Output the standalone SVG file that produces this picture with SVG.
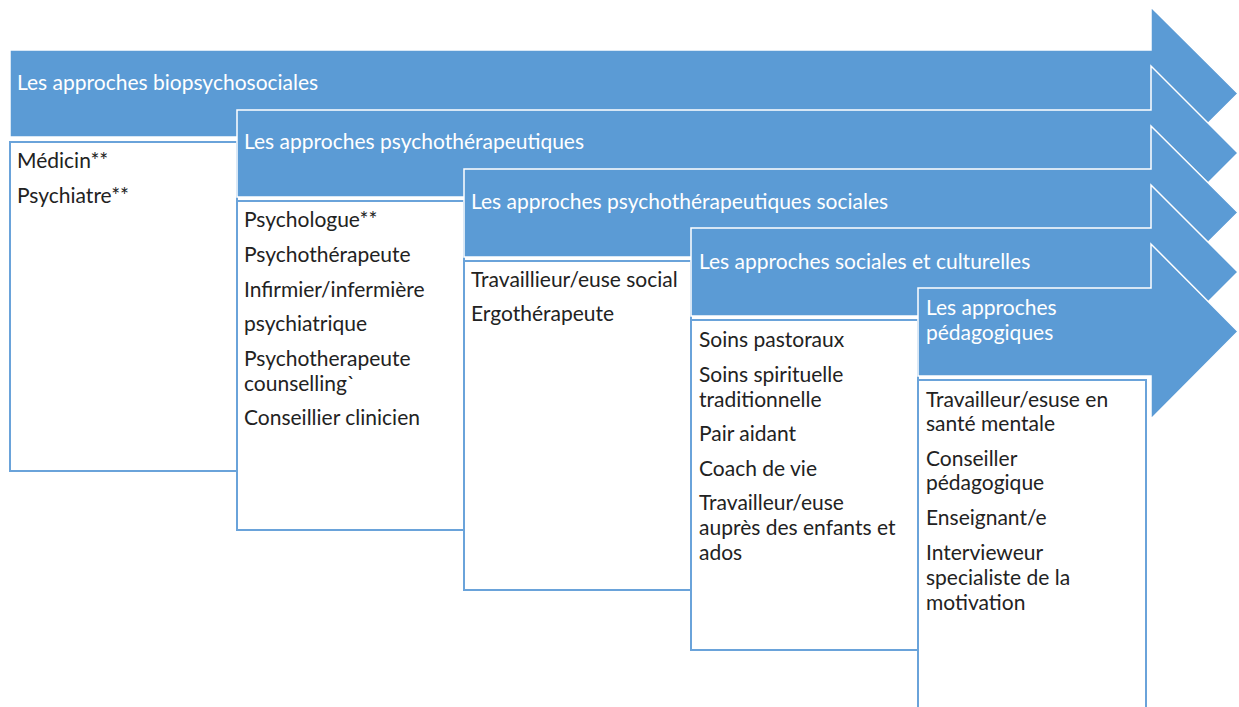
<svg xmlns="http://www.w3.org/2000/svg" width="1239" height="707" viewBox="0 0 1239 707">
<style>
.arrow{fill:#5B9BD5;stroke:#FFFFFF;stroke-width:1.5;stroke-linejoin:miter}
.box{fill:#FFFFFF;stroke:#6AA3DA;stroke-width:2}
.ht{font-family:Lato,"Open Sans","Liberation Sans",sans-serif;font-size:21px;fill:#FFFFFF}
.bt{font-family:Lato,"Open Sans","Liberation Sans",sans-serif;font-size:21px;fill:#222222}
</style>
<rect width="1239" height="707" fill="#FFFFFF"/>
<g id="stage1">
<path class="arrow" d="M10,50 H1151 V7 L1238,93.5 L1151,180 V137 H10 Z"/>
<text class="ht" x="17" y="90">Les approches biopsychosociales</text>
<rect class="box" x="10" y="142" width="227" height="329"/>
<text class="bt" x="17" y="168">Médicin**</text>
<text class="bt" x="17" y="203">Psychiatre**</text>
</g>
<g id="stage2">
<path class="arrow" d="M237,110 H1151 V66 L1238,153 L1151,240 V197 H237 Z"/>
<text class="ht" x="244" y="149">Les approches psychothérapeutiques</text>
<rect class="box" x="237" y="201" width="227" height="329"/>
<text class="bt" x="244" y="227">Psychologue**</text>
<text class="bt" x="244" y="262">Psychothérapeute</text>
<text class="bt" x="244" y="297">Infirmier/infermière</text>
<text class="bt" x="244" y="331">psychiatrique</text>
<text class="bt" x="244" y="366">Psychotherapeute</text>
<text class="bt" x="244" y="391">counselling`</text>
<text class="bt" x="244" y="425">Conseillier clinicien</text>
</g>
<g id="stage3">
<path class="arrow" d="M464,169 H1151 V126 L1238,212.5 L1151,299 V257 H464 Z"/>
<text class="ht" x="471" y="209">Les approches psychothérapeutiques sociales</text>
<rect class="box" x="464" y="261" width="227" height="329"/>
<text class="bt" x="471" y="287">Travaillieur/euse social</text>
<text class="bt" x="471" y="321">Ergothérapeute</text>
</g>
<g id="stage4">
<path class="arrow" d="M691,228 H1151 V185 L1238,272 L1151,359 V316 H691 Z"/>
<text class="ht" x="699" y="269">Les approches sociales et culturelles</text>
<rect class="box" x="691" y="320" width="227" height="330"/>
<text class="bt" x="699" y="347">Soins pastoraux</text>
<text class="bt" x="699" y="382">Soins spirituelle</text>
<text class="bt" x="699" y="407">traditionnelle</text>
<text class="bt" x="699" y="441">Pair aidant</text>
<text class="bt" x="699" y="476">Coach de vie</text>
<text class="bt" x="699" y="510">Travailleur/euse</text>
<text class="bt" x="699" y="535">auprès des enfants et</text>
<text class="bt" x="699" y="560">ados</text>
</g>
<g id="stage5">
<path class="arrow" d="M918,288 H1151 V244 L1238,331.5 L1151,419 V376 H918 Z"/>
<text class="ht" x="926" y="315">Les approches</text>
<text class="ht" x="926" y="340">pédagogiques</text>
<rect class="box" x="918" y="380" width="228" height="340"/>
<text class="bt" x="926" y="407">Travailleur/esuse en</text>
<text class="bt" x="926" y="431">santé mentale</text>
<text class="bt" x="926" y="466">Conseiller</text>
<text class="bt" x="926" y="490">pédagogique</text>
<text class="bt" x="926" y="525">Enseignant/e</text>
<text class="bt" x="926" y="560">Intervieweur</text>
<text class="bt" x="926" y="585">specialiste de la</text>
<text class="bt" x="926" y="610">motivation</text>
</g>
<g id="connectors"></g>
</svg>
